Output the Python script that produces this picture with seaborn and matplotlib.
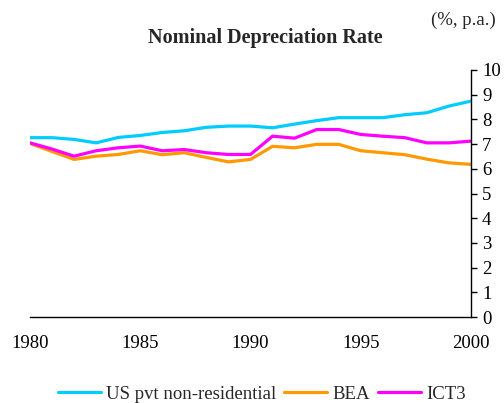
import matplotlib
matplotlib.use("Agg")
import matplotlib.pyplot as plt
import seaborn as sns
import pandas as pd
from matplotlib.lines import Line2D

years = list(range(1980, 2001))
us_pvt = [7.26, 7.26, 7.19, 7.05, 7.27, 7.35, 7.47, 7.54, 7.68, 7.73, 7.73,
          7.66, 7.81, 7.95, 8.07, 8.07, 8.07, 8.19, 8.27, 8.54, 8.74]
bea = [7.03, 6.70, 6.38, 6.51, 6.58, 6.73, 6.57, 6.65, 6.46, 6.28, 6.38,
       6.91, 6.85, 6.99, 6.99, 6.73, 6.65, 6.57, 6.39, 6.24, 6.18]
ict3 = [7.05, 6.80, 6.51, 6.73, 6.85, 6.92, 6.73, 6.78, 6.65, 6.58, 6.58,
        7.32, 7.24, 7.59, 7.59, 7.39, 7.32, 7.26, 7.05, 7.05, 7.12]
series_names = ["US pvt non-residential", "BEA", "ICT3"]
colors = ["#00CCFF", "#FF9900", "#FF00FF"]
xticks = [1980, 1985, 1990, 1995, 2000]
yticks = list(range(0, 11))

df = pd.DataFrame({
    "year": years * 3,
    "value": us_pvt + bea + ict3,
    "series": [series_names[0]] * len(years) + [series_names[1]] * len(years) + [series_names[2]] * len(years),
})

sns.set_style("white")
plt.rcParams["font.family"] = ["Liberation Serif", "DejaVu Serif"]

fig = plt.figure(figsize=(5.04, 4.03), dpi=100)
ax = fig.add_axes([30 / 504, 1 - 317 / 403, (471 - 30) / 504, (317 - 70) / 403])
sns.lineplot(data=df, x="year", y="value", hue="series", palette=colors,
             hue_order=series_names, linewidth=2.3, ax=ax, legend=False)

ax.set_xlim(1980, 2000)
ax.set_ylim(0, 10)
ax.set_xticks(xticks)
ax.set_yticks(yticks)
ax.set_xlabel("")
ax.set_ylabel("")
for s in ["left", "top"]:
    ax.spines[s].set_visible(False)
for s in ["right", "bottom"]:
    ax.spines[s].set_color("black")
    ax.spines[s].set_linewidth(1.0)
ax.yaxis.tick_right()
ax.tick_params(axis="y", direction="out", length=4, width=1, labelsize=13.5, pad=4, colors="black")
ax.tick_params(axis="x", direction="in", length=5, width=1, labelsize=13.5, pad=13, colors="black")

fig.text(265 / 504, 1 - 38 / 403, "Nominal Depreciation Rate", ha="center", va="center",
         fontsize=14.5, fontweight="bold")
fig.text(463 / 504, 1 - 20 / 403, "(%, p.a.)", ha="center", va="center", fontsize=13.5)

handles = [Line2D([0], [0], color=c, lw=2.3) for c in colors]
fig.legend(handles, series_names, loc="center", bbox_to_anchor=(262 / 504, 1 - 394 / 403),
           ncol=3, frameon=False, fontsize=13.5, handlelength=2.3, handletextpad=0.3,
           columnspacing=0.4, borderpad=0)

fig.savefig("out.png", dpi=100)
